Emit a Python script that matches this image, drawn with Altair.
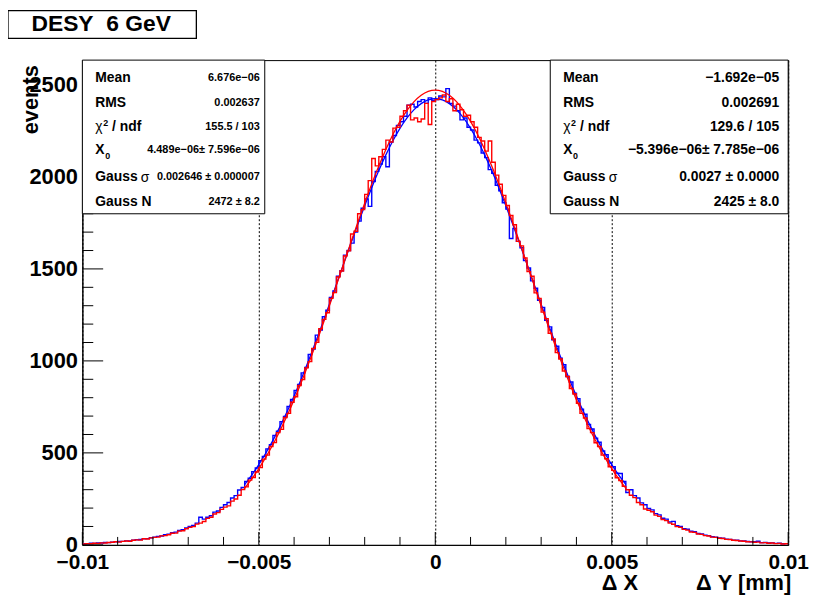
import altair as alt
import pandas as pd

FONT = "Liberation Sans"

# ---------------- data ----------------
x_min, x_max = -0.01, 0.01
bin_width = 0.0001
y_max = 2635

red_counts = [
    5, 7, 6, 9, 8, 11, 10, 13, 14, 17,
    15, 19, 21, 20, 25, 27, 26, 33, 32, 38,
    41, 42, 49, 50, 55, 63, 64, 75, 77, 88,
    95, 99, 113, 118, 127, 144, 150, 168, 175, 193,
    205, 212, 238, 249, 270, 301, 315, 352, 366, 396,
    420, 466, 488, 535, 556, 610, 628, 692, 715, 775,
    805, 866, 898, 962, 996, 1068, 1101, 1175, 1226, 1262,
    1340, 1371, 1456, 1489, 1570, 1598, 1690, 1705, 1800, 1822,
    1905, 1980, 2100, 2060, 2110, 2150, 2200, 2190, 2265, 2270,
    2330, 2360, 2390, 2310, 2320, 2300, 2315, 2400, 2285, 2410,
    2420, 2430, 2445, 2410, 2425, 2360, 2395, 2365, 2330, 2335,
    2300, 2270, 2215, 2195, 2140, 2195, 2080, 2010, 1960, 1900,
    1845, 1790, 1740, 1650, 1625, 1560, 1485, 1460, 1370, 1340,
    1265, 1230, 1150, 1120, 1045, 1010, 945, 915, 850, 820,
    770, 715, 690, 632, 610, 555, 535, 488, 468, 425,
    405, 365, 350, 318, 300, 270, 257, 230, 218, 195,
    188, 180, 162, 155, 138, 132, 118, 112, 99, 95,
    84, 80, 70, 68, 59, 57, 50, 48, 42, 41,
    36, 35, 30, 29, 25, 24, 21, 20, 17, 16,
    14, 15, 11, 12, 9, 10, 7, 8, 5, 6,
]

blue_counts = [
    7, 6, 9, 8, 11, 10, 13, 12, 15, 16,
    18, 19, 22, 22, 26, 28, 29, 33, 34, 39,
    42, 46, 48, 56, 58, 66, 69, 78, 82, 92,
    100, 105, 118, 150, 140, 150, 158, 178, 184, 204,
    218, 230, 255, 268, 298, 312, 345, 362, 398, 418,
    458, 480, 522, 545, 595, 618, 670, 698, 752, 790,
    840, 872, 935, 965, 1035, 1065, 1140, 1168, 1240, 1275,
    1345, 1380, 1460, 1490, 1575, 1600, 1640, 1700, 1760, 1830,
    1880, 1840, 1975, 2030, 2070, 2110, 2055, 2190, 2225, 2280,
    2300, 2330, 2390, 2395, 2380, 2410, 2420, 2400, 2430, 2415,
    2420, 2440, 2435, 2480, 2400, 2385, 2360, 2310, 2320, 2270,
    2255, 2200, 2185, 2130, 2105, 2040, 2020, 1955, 1925, 1860,
    1825, 1665, 1720, 1650, 1615, 1545, 1505, 1435, 1395, 1330,
    1290, 1220, 1185, 1115, 1080, 1015, 980, 915, 885, 825,
    795, 738, 710, 655, 630, 580, 558, 510, 490, 445,
    425, 390, 388, 345, 285, 300, 268, 255, 228, 218,
    198, 190, 170, 163, 145, 140, 124, 128, 104, 100,
    88, 85, 74, 72, 62, 60, 52, 50, 44, 42,
    37, 36, 31, 30, 26, 26, 22, 21, 18, 17,
    17, 20, 12, 13, 10, 11, 8, 9, 6, 7,
]

fit_x = [round(-0.0054 + 0.0002 * i, 5) for i in range(55)]
red_fit = [
    308.2, 358.5, 414.7, 477.0, 545.5, 620.3, 701.4, 788.5, 881.5, 979.7,
    1082.6, 1189.7, 1299.9, 1412.2, 1525.5, 1638.3, 1749.6, 1857.7, 1961.3, 2058.9,
    2149.1, 2230.4, 2301.6, 2361.6, 2409.3, 2443.9, 2465.0, 2472.0, 2465.0, 2443.9,
    2409.3, 2361.6, 2301.6, 2230.4, 2149.1, 2058.9, 1961.3, 1857.7, 1749.6, 1638.3,
    1525.5, 1412.2, 1299.9, 1189.7, 1082.6, 979.7, 881.5, 788.5, 701.4, 620.3,
    545.5, 477.0, 414.7, 358.5, 308.2,
]
blue_fit = [
    328.2, 379.6, 436.6, 499.4, 568.1, 642.7, 723.2, 809.3, 900.7, 996.9,
    1097.4, 1201.4, 1308.1, 1416.4, 1525.3, 1633.6, 1740.0, 1843.2, 1941.8, 2034.5,
    2119.9, 2196.9, 2264.3, 2320.8, 2365.9, 2398.5, 2418.4, 2425.0, 2418.4, 2398.5,
    2365.9, 2320.8, 2264.3, 2196.9, 2119.9, 2034.5, 1941.8, 1843.2, 1740.0, 1633.6,
    1525.3, 1416.4, 1308.1, 1201.4, 1097.4, 996.9, 900.7, 809.3, 723.2, 642.7,
    568.1, 499.4, 436.6, 379.6, 328.2,
]

x_major = [-0.01, -0.005, 0, 0.005, 0.01]
x_major_labels = ["\u22120.01", "\u22120.005", "0", "0.005", "0.01"]
x_minor = [-0.009, -0.008, -0.007, -0.006, -0.004, -0.003, -0.002, -0.001,
           0.001, 0.002, 0.003, 0.004, 0.006, 0.007, 0.008, 0.009]
y_major = [0, 500, 1000, 1500, 2000, 2500]
y_minor = [100, 200, 300, 400, 600, 700, 800, 900, 1100, 1200, 1300, 1400,
           1600, 1700, 1800, 1900, 2100, 2200, 2300, 2400, 2600]

title_text = "DESY\u00a0 6 GeV"
y_title = "events"
x_title_a = "\u0394 X"
x_title_b = "\u0394 Y [mm]"

stat_left_values = ["6.676e\u221206", "0.002637", "155.5 / 103",
                    "4.489e\u221206\u00b1 7.596e\u221206", "0.002646 \u00b1 0.000007", "2472 \u00b1 8.2"]
stat_right_values = ["\u22121.692e\u221205", "0.002691", "129.6 / 105",
                     "\u22125.396e\u221206\u00b1 7.785e\u221206", "0.0027 \u00b1 0.0000", "2425 \u00b1 8.0"]

# ---------------- layout ----------------
W, H = 712, 489
n_bins = len(red_counts)
edges = [x_min + bin_width * i for i in range(n_bins + 1)]

hist_df = pd.DataFrame({
    "x": edges * 2,
    "y": red_counts + [red_counts[-1]] + blue_counts + [blue_counts[-1]],
    "s": ["red"] * (n_bins + 1) + ["blue"] * (n_bins + 1),
})
fit_df = pd.DataFrame({
    "x": fit_x * 2,
    "y": red_fit + blue_fit,
    "s": ["red"] * len(fit_x) + ["blue"] * len(fit_x),
})

xscale = alt.Scale(domain=[x_min, x_max], nice=False, zero=False)
yscale = alt.Scale(domain=[0, y_max], nice=False, zero=True)

label_expr = " : ".join(
    f"abs(datum.value - ({v})) < 1e-6 ? '{l}'" for v, l in zip(x_major, x_major_labels)
) + " : ''"

x_axis = alt.Axis(values=x_major, labelExpr=label_expr, title=None, ticks=False,
                  grid=True, gridDash=[2, 2], gridColor="black", gridWidth=1, gridOpacity=1,
                  domain=True, domainColor="black", domainWidth=1,
                  labelFont=FONT, labelFontSize=21, labelFontWeight="bold", labelColor="black",
                  labelPadding=7, labelFlush=False, labelOverlap=False)
y_axis = alt.Axis(values=y_major, format="d", title=None, ticks=False, grid=False,
                  domain=True, domainColor="black", domainWidth=1,
                  labelFont=FONT, labelFontSize=22, labelFontWeight="bold", labelColor="black",
                  labelPadding=5, labelFlush=False, labelOverlap=False)

def X(field="x"):
    return alt.X(f"{field}:Q", scale=xscale, axis=x_axis, title=None)

def Y(field="y"):
    return alt.Y(f"{field}:Q", scale=yscale, axis=y_axis, title=None)

layers = []

def hist_layer(series, color):
    return alt.Chart(hist_df).transform_filter(alt.datum.s == series).mark_line(
        interpolate="step-after", color=color, strokeWidth=1.4
    ).encode(x=X(), y=Y())

def fit_layer(series, color):
    return alt.Chart(fit_df).transform_filter(alt.datum.s == series).mark_line(
        interpolate="monotone", color=color, strokeWidth=1.3
    ).encode(x=X(), y=Y())

layers.append(hist_layer("blue", "#0000ff"))
layers.append(fit_layer("blue", "#0000ff"))
layers.append(hist_layer("red", "#ff0000"))
layers.append(fit_layer("red", "#ff0000"))

# inside ticks
def xticks(vals, length):
    return alt.Chart(pd.DataFrame({"x": vals})).mark_rule(color="black", strokeWidth=1).encode(
        x=X("x"), y=alt.value(H), y2=alt.value(H - length))

def yticks(vals, length):
    return alt.Chart(pd.DataFrame({"y": vals})).mark_rule(color="black", strokeWidth=1).encode(
        y=Y("y"), x=alt.value(0), x2=alt.value(length))

layers += [xticks(x_major, 13), xticks(x_minor, 8), yticks(y_major, 21), yticks(y_minor, 11)]

dummy = pd.DataFrame({"d": [0]})

def box(x0, x1, y0, y1, sw=1.0):
    return alt.Chart(dummy).mark_rect(fill="white", stroke="black", strokeWidth=sw).encode(
        x=alt.value(x0), x2=alt.value(x1), y=alt.value(y0), y2=alt.value(y1))

def txt(s, x, y, size=14, weight="bold", align="left", baseline="middle", angle=None):
    kw = dict(text=s, font=FONT, fontSize=size, fontWeight=weight, align=align,
              baseline=baseline, color="black")
    if angle is not None:
        kw["angle"] = angle
    return alt.Chart(dummy).mark_text(**kw).encode(x=alt.value(x), y=alt.value(y))

row_y = [18, 43, 68, 93, 118, 143]

def stat_box(x0, x1, values, vsize, vpad, sig_dx):
    out = [box(x0, x1, 0, 155)]
    lx = x0 + 13
    out.append(txt("Mean", lx, row_y[0]))
    out.append(txt("RMS", lx, row_y[1]))
    out.append(txt("\u03c7", lx, row_y[2], weight="normal"))
    out.append(txt("2", lx + 8, row_y[2] - 5, size=9))
    out.append(txt("/ ndf", lx + 17, row_y[2]))
    out.append(txt("X", lx, row_y[3] - 2))
    out.append(txt("0", lx + 10, row_y[3] + 4, size=9))
    out.append(txt("Gauss", lx, row_y[4]))
    out.append(txt("\u03c3", lx + sig_dx, row_y[4] + 1, weight="normal"))
    out.append(txt("Gauss N", lx, row_y[5]))
    for v, yy in zip(values, row_y):
        out.append(txt(v, x1 - vpad, yy - (2 if "\u00b1 7." in v else 0), size=vsize, align="right"))
    return out

layers += stat_box(0, 184, stat_left_values, 11, 5, 46)
layers += stat_box(472, W, stat_right_values, 14, 9, 46)

# title box
layers.append(box(-75, 115, -50, -22, sw=1.3))
layers.append(txt(title_text, 19, -36, size=23, align="center"))

# axis titles
layers.append(txt(y_title, -45, 40, size=22, align="center", baseline="alphabetic", angle=270))
layers.append(txt(x_title_a, 524, 535, size=22, align="left", baseline="alphabetic"))
layers.append(txt(x_title_b, 715, 535, size=22, align="right", baseline="alphabetic"))

chart = alt.layer(*layers).properties(
    width=W, height=H,
    padding={"left": 75, "top": 50, "right": 21, "bottom": 48},
    autosize=alt.AutoSizeParams(type="none"),
    background="white",
).configure_view(stroke="black", strokeWidth=1)

chart.save("out.html", embed_options={"renderer": "svg", "actions": False})
